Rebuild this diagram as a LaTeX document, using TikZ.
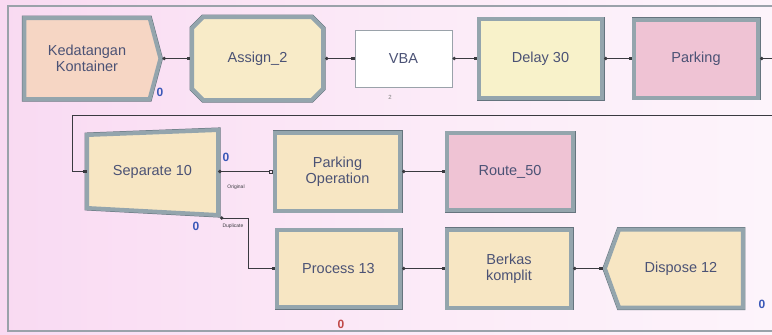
\documentclass[tikz,border=0pt]{standalone}
\usepackage{fontspec}
\setmainfont{Liberation Sans}
\usetikzlibrary{shapes.misc,shapes.symbols,arrows.meta}
\definecolor{bgpink}{HTML}{F9DAF2}
\definecolor{bglight}{HTML}{FDF4FB}
\definecolor{framegray}{HTML}{9AA2AA}
\definecolor{bevel}{HTML}{94A5AD}
\definecolor{beveldark}{HTML}{65747E}
\definecolor{txtblue}{HTML}{4B5275}
\definecolor{cntblue}{HTML}{3A58B8}
\definecolor{cntred}{HTML}{C04848}
\definecolor{linkgray}{HTML}{3A3A40}
\definecolor{createfill}{HTML}{F6D6C4}
\definecolor{assignfill}{HTML}{F8EBC8}
\definecolor{delayfill}{HTML}{F8F2CA}
\definecolor{pinkfill}{HTML}{EFC3D4}
\definecolor{procfill}{HTML}{F7E6C3}
\begin{document}
\begin{tikzpicture}[
x=1pt,y=-1pt,
module/.style={draw=bevel,line width=4pt,preaction={draw=beveldark,line width=5pt},
  text=txtblue,font=\fontsize{14.5}{16}\selectfont,align=center,inner sep=1pt},
link/.style={draw=linkgray,line width=1pt,{Circle[length=3.5pt]}-{Square[length=3.5pt]}},
count/.style={text=cntblue,font=\fontsize{12}{12}\selectfont\bfseries,inner sep=0pt},
tag/.style={text=linkgray,font=\fontsize{5}{5}\selectfont,inner sep=0pt}
]
\useasboundingbox (0,0) rectangle (772,335);
\shade[left color=bgpink,right color=bglight,middle color=bglight!60!bgpink] (0,0) rectangle (772,335);
\draw[framegray,line width=1.2pt] (780,6) -- (8,6) -- (8,331) -- (780,331);
% first row
\node[module,signal,signal to=east,signal pointer angle=150,fill=createfill,
  minimum width=136,minimum height=81] (create) at (87,58.5) {Kedatangan\\Kontainer};
\node[module,chamfered rectangle,chamfered rectangle xsep=14pt,fill=assignfill,
  minimum width=131,minimum height=83] (assign) at (257.5,58.5) {Assign\_2};
\node[draw=framegray,line width=1pt,fill=white,text=txtblue,font=\fontsize{14.5}{16}\selectfont,
  minimum width=97,minimum height=57] (vba) at (403.5,58.5) {VBA};
\node[module,fill=delayfill,minimum width=123,minimum height=79] (delay) at (540.5,58.5) {Delay 30};
\node[module,fill=pinkfill,minimum width=124,minimum height=78] (parking) at (696,58.5) {Parking};
% second row
\filldraw[procfill,draw=bevel,line width=4pt,preaction={draw=beveldark,line width=5pt}]
  (87,135) -- (218,130) -- (218,215) -- (87,208) -- cycle;
\node[text=txtblue,font=\fontsize{14.5}{16}\selectfont,minimum width=131,minimum height=85]
  (sep) at (152.5,171.5) {Separate 10};
\node[module,fill=procfill,minimum width=125,minimum height=78] (parkop) at (337.5,171.5) {Parking\\Operation};
\node[module,fill=pinkfill,minimum width=126,minimum height=77] (route) at (510,171.5) {Route\_50};
% third row
\node[module,fill=procfill,minimum width=123,minimum height=77] (process) at (338.5,268.5) {Process 13};
\node[module,fill=procfill,minimum width=124,minimum height=78] (berkas) at (509,268.5) {Berkas\\komplit};
\node[module,signal,signal to=west,signal pointer angle=140,fill=procfill,
  minimum width=138,minimum height=78] (dispose) at (681,268.5) {Dispose 12};
% connectors
\draw[link] (create.east) -- (assign.west);
\draw[link] (assign.east) -- (vba.west);
\draw[link] (vba.east) -- (delay.west);
\draw[link] (delay.east) -- (parking.west);
\draw[link] (parking.east) -- (774,58.5) |- (72,115) |- (sep.west);
\coordinate (sepdup) at (220,218);
\draw[link,{Circle[length=3.5pt]}-{Square[open,length=4pt]}] (sep.east) -- (parkop.west);
\draw[link] (parkop.east) -- (route.west);
\draw[link] (sepdup) -| (248,268.5) -- (process.west);
\draw[link] (process.east) -- (berkas.west);
\draw[link] (berkas.east) -- (dispose.west);
% labels
\node[count] (c1) at (160,92) {0};
\node[text=gray,font=\fontsize{6}{6}\selectfont,inner sep=0pt] (c2) at (390,97) {2};
\node[count] (c3) at (226,157) {0};
\node[count] (c4) at (196,226) {0};
\node[count,text=cntred] (c5) at (341,324) {0};
\node[count] (c6) at (762,304) {0};
\node[tag] (orig) at (236,187) {Original};
\node[tag] (dup) at (233,226) {Duplicate};
\end{tikzpicture}
\end{document}
